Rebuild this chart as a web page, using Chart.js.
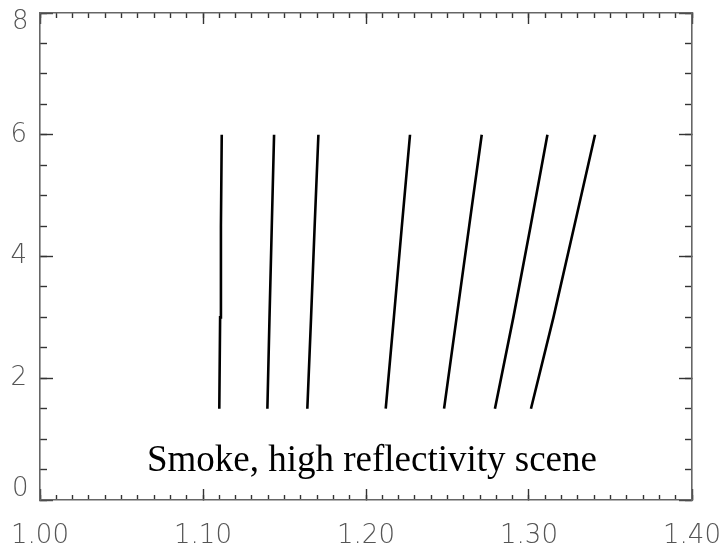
<!DOCTYPE html>
<html>
<head>
<meta charset="utf-8">
<script src="https://cdn.jsdelivr.net/npm/chart.js@4/dist/chart.umd.min.js"></script>
<style>
  html, body { margin: 0; padding: 0; background: #ffffff; }
  #wrap { width: 726px; height: 549px; }
</style>
</head>
<body>
<div id="wrap"><canvas id="plot" width="726" height="549"></canvas></div>
<script>
// Heights (y) at which each curve is sampled
const heights = [1.5, 3.0, 4.5, 6.0];

// x position of each curve at those heights
const curve1 = [1.1100, 1.1105, 1.1110, 1.1115];
const curve2 = [1.1395, 1.1408, 1.1422, 1.1436];
const curve3 = [1.1640, 1.1663, 1.1685, 1.1708];
const curve4 = [1.2121, 1.2171, 1.2220, 1.2270];
const curve5 = [1.2479, 1.2556, 1.2633, 1.2710];
const curve6 = [1.2791, 1.2904, 1.3010, 1.3113];
const curve7 = [1.3012, 1.3150, 1.3278, 1.3405];

const curves = [curve1, curve2, curve3, curve4, curve5, curve6, curve7];

// Axis ranges and tick steps
const xRange = [1.0, 1.4];
const yRange = [0, 8];
const xMajorStep = 0.1, xMinorStep = 0.01;
const yMajorStep = 2, yMinorStep = 0.5;

const annotationText = 'Smoke, high reflectivity scene';
const annotationAt = { x: 1.0656, y: 0.48 };

const axisColor = '#666666';
const tickColor = '#333333';
const labelFont = { family: '"DejaVu Sans"', size: 26, weight: '200' };
const labelColor = '#555555';

const datasets = curves.map((xs, i) => ({
  label: 'curve ' + (i + 1),
  data: xs.map((x, k) => ({ x: x, y: heights[k] })),
  showLine: true,
  borderColor: '#000000',
  borderWidth: 2.6,
  pointRadius: 0,
  fill: false,
  tension: 0
}));

function zeroPadding(scale) {
  scale.paddingLeft = 0;
  scale.paddingRight = 0;
  scale.paddingTop = 0;
  scale.paddingBottom = 0;
}

// Unlabelled axis that only contributes inward tick marks (and optionally the frame line)
function tickAxis(position, step, len, range, withBorder) {
  const horizontal = position === 'top' || position === 'bottom';
  return {
    type: 'linear',
    position: position,
    min: range[0],
    max: range[1],
    weight: 0,
    ticks: { display: false, stepSize: step },
    grid: {
      drawOnChartArea: false,
      drawTicks: true,
      tickLength: -len,
      tickColor: tickColor,
      tickWidth: 1.4
    },
    border: { display: withBorder, color: axisColor, width: 1.6 },
    afterFit(scale) {
      if (horizontal) scale.height = 0; else scale.width = 0;
      zeroPadding(scale);
    }
  };
}

// Left axis carrying a subset of the labels, nudged vertically by `shift`
function yLabelAxis(keep, shift) {
  return {
    type: 'linear',
    position: 'left',
    min: yRange[0],
    max: yRange[1],
    weight: 0,
    ticks: {
      stepSize: yMajorStep,
      mirror: true,
      padding: -28,
      labelOffset: shift,
      color: labelColor,
      font: labelFont,
      callback: (v) => (keep.includes(v) ? String(v) : '')
    },
    grid: { drawOnChartArea: false, drawTicks: false },
    border: { display: false },
    afterFit(scale) {
      scale.width = 0;
      zeroPadding(scale);
    }
  };
}

const annotationPlugin = {
  id: 'sceneLabel',
  afterDatasetsDraw(chart) {
    const ctx = chart.ctx;
    const px = chart.scales.x.getPixelForValue(annotationAt.x);
    const py = chart.scales.y.getPixelForValue(annotationAt.y);
    ctx.save();
    ctx.font = '37px "Liberation Serif"';
    ctx.fillStyle = '#000000';
    ctx.textAlign = 'left';
    ctx.textBaseline = 'alphabetic';
    ctx.fillText(annotationText, px, py);
    ctx.restore();
  }
};

new Chart(document.getElementById('plot'), {
  type: 'scatter',
  data: { datasets: datasets },
  plugins: [annotationPlugin],
  options: {
    responsive: false,
    animation: false,
    events: [],
    layout: { padding: { top: 13, right: 34, left: 0, bottom: 0 } },
    plugins: { legend: { display: false }, tooltip: { enabled: false } },
    scales: {
      x: {
        type: 'linear',
        position: 'bottom',
        min: xRange[0],
        max: xRange[1],
        weight: 10,
        ticks: {
          stepSize: xMajorStep,
          autoSkip: false,
          maxRotation: 0,
          padding: 32,
          color: labelColor,
          font: labelFont,
          callback: (v) => Number(v).toFixed(2)
        },
        grid: {
          drawOnChartArea: false,
          tickLength: -11,
          tickColor: tickColor,
          tickWidth: 1.4
        },
        border: { display: true, color: axisColor, width: 1.6 },
        afterFit(scale) {
          scale.height = 49;
          zeroPadding(scale);
        }
      },
      xMinor: tickAxis('bottom', xMinorStep, 5, xRange, false),
      xTop: tickAxis('top', xMajorStep, 11, xRange, true),
      xTopMinor: tickAxis('top', xMinorStep, 5, xRange, false),
      y: {
        type: 'linear',
        position: 'left',
        min: yRange[0],
        max: yRange[1],
        weight: 10,
        ticks: {
          stepSize: yMajorStep,
          padding: 26,
          color: labelColor,
          font: labelFont,
          callback: (v) => (v > yRange[0] && v < yRange[1] ? String(v) : '')
        },
        grid: {
          drawOnChartArea: false,
          tickLength: -13,
          tickColor: tickColor,
          tickWidth: 1.4
        },
        border: { display: true, color: axisColor, width: 1.6 },
        afterFit(scale) {
          scale.width = 40;
          zeroPadding(scale);
        }
      },
      yLabelTop: yLabelAxis([yRange[1]], 9),
      yLabelBottom: yLabelAxis([yRange[0]], -11),
      yMinor: tickAxis('left', yMinorStep, 7, yRange, false),
      yRight: tickAxis('right', yMajorStep, 13, yRange, true),
      yRightMinor: tickAxis('right', yMinorStep, 7, yRange, false)
    }
  }
});
</script>
</body>
</html>
